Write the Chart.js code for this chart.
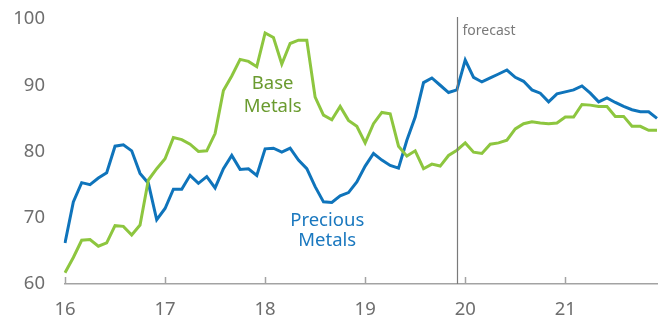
<!DOCTYPE html>
<html>
<head>
<meta charset="utf-8">
<script src="https://cdn.jsdelivr.net/npm/chart.js@4/dist/chart.umd.min.js"></script>
<style>
  html, body { margin: 0; padding: 0; background: #fff; }
  #wrap { width: 662px; height: 323px; position: relative; }
</style>
</head>
<body>
<div id="wrap"><canvas id="metalsChart"></canvas></div>
<script>
// tick labels on the x axis (one per year)
const yearLabels = ['16', '17', '18', '19', '20', '21'];
const yTicks = [60, 70, 80, 90, 100];

// monthly categories, Jan 2016 .. Dec 2021
const months = [];
yearLabels.forEach(y => {
    for (let m = 1; m <= 12; m++) months.push(y + '-' + String(m).padStart(2, '0'));
});

const preciousMetals = [
    66.2, 72.4, 75.3, 75.0, 76.0, 76.8, 80.8, 81.0, 80.1, 76.7, 75.2, 69.7,
    71.4, 74.3, 74.3, 76.4, 75.2, 76.2, 74.5, 77.4, 79.4, 77.3, 77.4, 76.4,
    80.4, 80.5, 79.9, 80.5, 78.7, 77.4, 74.7, 72.4, 72.3, 73.3, 73.8, 75.4,
    77.8, 79.7, 78.7, 77.9, 77.5, 81.7, 85.2, 90.4, 91.1, 90.0, 88.9, 89.3,
    93.8, 91.2, 90.5, 91.1, 91.7, 92.3, 91.2, 90.6, 89.3, 88.8, 87.5, 88.7,
    89.0, 89.3, 89.9, 88.8, 87.5, 88.1, 87.4, 86.8, 86.3, 86.0, 86.0, 85.0
];

const baseMetals = [
    61.7, 64.0, 66.6, 66.7, 65.7, 66.2, 68.8, 68.7, 67.4, 68.9, 75.7, 77.4,
    78.9, 82.1, 81.8, 81.1, 80.0, 80.1, 82.7, 89.2, 91.4, 93.9, 93.6, 92.8,
    97.9, 97.2, 93.2, 96.3, 96.8, 96.8, 88.2, 85.5, 84.8, 86.8, 84.7, 83.8,
    81.3, 84.2, 85.9, 85.7, 80.8, 79.3, 80.1, 77.4, 78.1, 77.8, 79.4, 80.2,
    81.3, 79.9, 79.7, 81.1, 81.3, 81.7, 83.4, 84.2, 84.5, 84.3, 84.2, 84.3,
    85.2, 85.2, 87.1, 87.0, 86.8, 86.8, 85.3, 85.3, 83.8, 83.8, 83.2, 83.2
];

const forecastStart = '19-12';

const BLUE = '#0f74bb';
const GREEN = '#8dc63f';
const GREY = '#6e6e6e';
const FONT = '"Noto Sans", "Open Sans", sans-serif';

// year tick marks sit above the axis line, plus the forecast divider and series names
const extrasPlugin = {
    id: 'extras',
    afterDatasetsDraw(chart) {
        const { ctx, chartArea, scales: { x, y } } = chart;
        ctx.save();

        ctx.strokeStyle = '#a3a3a3';
        ctx.lineWidth = 1.5;
        months.forEach((m, i) => {
            if (i % 12 !== 0) return;
            const px = Math.round(x.getPixelForValue(i)) + 0.5;
            ctx.beginPath();
            ctx.moveTo(px, chartArea.bottom);
            ctx.lineTo(px, chartArea.bottom - 7);
            ctx.stroke();
        });

        const fx = Math.round(x.getPixelForValue(months.indexOf(forecastStart))) + 0.5;
        ctx.strokeStyle = '#7a7a7a';
        ctx.lineWidth = 1.2;
        ctx.beginPath();
        ctx.moveTo(fx, chartArea.top - 2);
        ctx.lineTo(fx, chartArea.bottom);
        ctx.stroke();

        ctx.font = '14px ' + FONT;
        ctx.fillStyle = '#7a7a7a';
        ctx.textAlign = 'left';
        ctx.textBaseline = 'middle';
        ctx.fillText('forecast', fx + 5, chartArea.top + 12);

        ctx.font = '18.5px ' + FONT;
        ctx.textAlign = 'center';
        ctx.fillStyle = '#6a9b2f';
        ctx.fillText('Base', x.getPixelForValue(24.9), y.getPixelForValue(90.2));
        ctx.fillText('Metals', x.getPixelForValue(24.9), y.getPixelForValue(86.7));
        ctx.fillStyle = '#1a78bf';
        ctx.fillText('Precious', x.getPixelForValue(31.45), y.getPixelForValue(69.6));
        ctx.fillText('Metals', x.getPixelForValue(31.45), y.getPixelForValue(66.6));

        ctx.restore();
    }
};

new Chart(document.getElementById('metalsChart'), {
    type: 'line',
    data: {
        labels: months,
        datasets: [
            {
                label: 'Base Metals',
                data: baseMetals,
                borderColor: GREEN,
                borderWidth: 3,
                pointRadius: 0,
                tension: 0
            },
            {
                label: 'Precious Metals',
                data: preciousMetals,
                borderColor: BLUE,
                borderWidth: 3,
                pointRadius: 0,
                tension: 0
            }
        ]
    },
    options: {
        responsive: true,
        maintainAspectRatio: false,
        animation: false,
        layout: { padding: { top: 19, right: 5, left: 0, bottom: 0 } },
        plugins: {
            legend: { display: false },
            tooltip: { enabled: false }
        },
        scales: {
            x: {
                grid: { display: false, drawTicks: false },
                border: { display: true, color: '#a3a3a3', width: 1.5 },
                afterFit: (scale) => {
                    scale.height = 39;
                    scale.paddingLeft = 0;
                    scale.paddingRight = 0;
                },
                ticks: {
                    autoSkip: false,
                    maxRotation: 0,
                    padding: 15,
                    color: GREY,
                    font: { family: FONT, size: 18.5 },
                    callback: (value, index) => (index % 12 === 0 ? yearLabels[index / 12] : '')
                }
            },
            y: {
                min: 60,
                max: 100,
                grid: { display: false, drawTicks: false },
                border: { display: false },
                afterFit: (scale) => {
                    scale.width = 65;
                    scale.paddingTop = 0;
                    scale.paddingBottom = 0;
                },
                afterBuildTicks: (scale) => { scale.ticks = yTicks.map(v => ({ value: v })); },
                ticks: {
                    padding: 20,
                    color: GREY,
                    font: { family: FONT, size: 18.5 }
                }
            }
        }
    },
    plugins: [extrasPlugin]
});
</script>
</body>
</html>
